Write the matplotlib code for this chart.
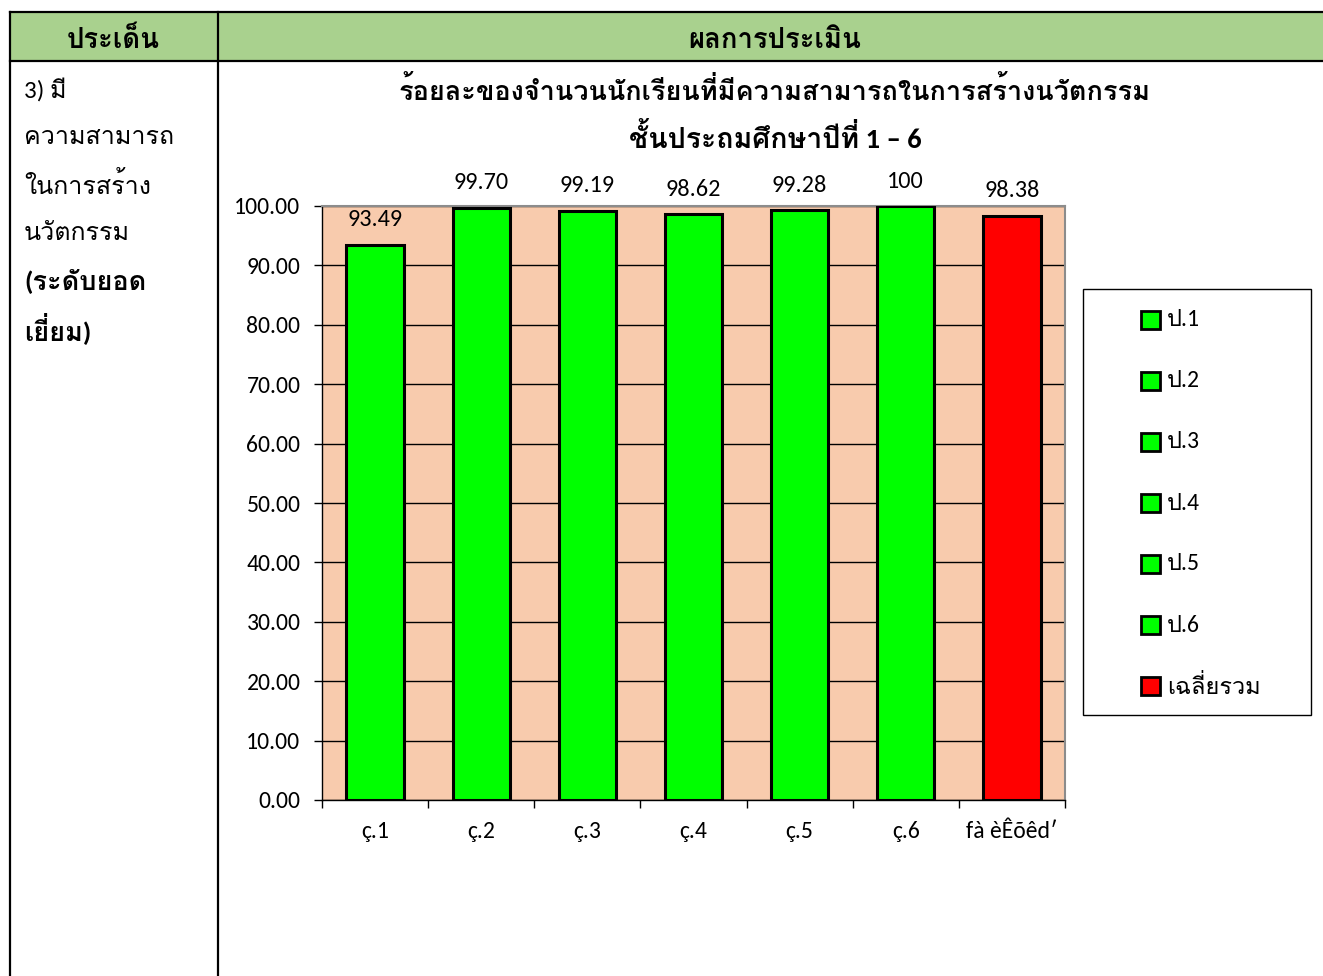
import matplotlib
matplotlib.use("Agg")
import matplotlib.pyplot as plt
from matplotlib.patches import Rectangle
from matplotlib.lines import Line2D
from matplotlib.ticker import FixedLocator, FuncFormatter

# ---- data ----
categories = ["ç.1", "ç.2", "ç.3", "ç.4", "ç.5", "ç.6", "fà èÊõêd′"]
values = [93.49, 99.70, 99.19, 98.62, 99.28, 100, 98.38]
value_labels = ["93.49", "99.70", "99.19", "98.62", "99.28", "100", "98.38"]
legend_labels = ["ป.1", "ป.2", "ป.3", "ป.4", "ป.5", "ป.6", "เฉลี่ยรวม"]
bar_colors = ["#00FF00"] * 6 + ["#FF0000"]
yticks = [0, 10, 20, 30, 40, 50, 60, 70, 80, 90, 100]
title_lines = ["ร้อยละของจำนวนนักเรียนที่มีความสามารถในการสร้างนวัตกรรม",
               "ชั้นประถมศึกษาปีที่ 1 – 6"]
header_left = "ประเด็น"
header_right = "ผลการประเมิน"
left_lines = ["3) มี", "ความสามารถ", "ในการสร้าง", "นวัตกรรม"]
left_bold_lines = ["(ระดับยอด", "เยี่ยม)"]

W, H = 1323, 976
def px(x):
    return x / W
def py(y):
    return 1 - y / H

THAI = ["Loma", "DejaVu Sans"]
NUM = ["Carlito", "Lato", "DejaVu Sans"]
NUM_THAI = ["Carlito", "Loma", "DejaVu Sans"]

fig = plt.figure(figsize=(W / 100, H / 100), dpi=100)

# ---- table ----
fig.add_artist(Rectangle((px(10), py(61)), px(1323) - px(10), py(12) - py(61),
                         transform=fig.transFigure, facecolor="#A9D18E",
                         edgecolor="none", zorder=0))
lw = 1.6
def hline(y, x0, x1):
    fig.add_artist(Line2D([px(x0), px(x1)], [py(y), py(y)], color="black",
                          lw=lw, transform=fig.transFigure))
def vline(x, y0, y1):
    fig.add_artist(Line2D([px(x), px(x)], [py(y0), py(y1)], color="black",
                          lw=lw, transform=fig.transFigure))
hline(12, 10, 1323)
hline(61, 10, 1323)
vline(10, 12, 976)
vline(218, 12, 976)

fig.text(px(113), py(40), header_left, ha="center", va="center",
         family=THAI, fontweight="bold", fontsize=19.8)
fig.text(px(775), py(40), header_right, ha="center", va="center",
         family=THAI, fontweight="bold", fontsize=19.8)

ys = [90, 138, 185, 233, 281, 329]
for i, t in enumerate(left_lines + left_bold_lines):
    bold = i >= len(left_lines)
    fig.text(px(24), py(ys[i]), t, ha="left", va="center", family=NUM_THAI,
             fontsize=19.5 if bold else 18,
             fontweight="bold" if bold else "normal")

# ---- chart ----
ax = fig.add_axes([px(322), py(800), px(1065) - px(322), py(206) - py(800)])
ax.set_facecolor("#F8CBAD")
x = list(range(len(categories)))
ax.bar(x, values, width=0.54, color=bar_colors, edgecolor="black",
       linewidth=2.2, zorder=3)
ax.set_xlim(-0.5, len(categories) - 0.5)
ax.set_ylim(0, 100)
ax.yaxis.set_major_locator(FixedLocator(yticks))
ax.yaxis.set_major_formatter(FuncFormatter(lambda v, p: "%.2f" % v))
ax.grid(axis="y", color="black", lw=1, zorder=1)
ax.set_axisbelow(True)
ax.set_xticks(x)
ax.set_xticklabels(categories, family=NUM, fontsize=17)
ax.set_xticks([i - 0.5 for i in range(len(categories) + 1)], minor=True)
ax.tick_params(axis="x", which="major", length=0, pad=15)
ax.tick_params(axis="x", which="minor", length=6, width=1, direction="out")
ax.tick_params(axis="y", length=6, width=1, direction="out", pad=9.5)
for lab in ax.get_yticklabels():
    lab.set_family(NUM)
    lab.set_fontsize(17)
for s in ["top", "right"]:
    ax.spines[s].set_color("#8C8C8C")
    ax.spines[s].set_linewidth(1.5)
for s in ["left", "bottom"]:
    ax.spines[s].set_color("black")
    ax.spines[s].set_linewidth(1)

for xi, v, lab in zip(x, values, value_labels):
    ax.annotate(lab, (xi, v), xytext=(0, 18), textcoords="offset points",
                ha="center", va="center", family=NUM, fontsize=17.5,
                annotation_clip=False)

fig.text(px(775), py(90), title_lines[0], ha="center", va="center",
         family=NUM_THAI, fontweight="bold", fontsize=19.5)
fig.text(px(775), py(137), title_lines[1], ha="center", va="center",
         family=NUM_THAI, fontweight="bold", fontsize=20.5)

# ---- legend ----
fig.add_artist(Rectangle((px(1083), py(715)), px(1311) - px(1083),
                         py(289) - py(715), transform=fig.transFigure,
                         facecolor="white", edgecolor="black", lw=1))
for i, (lab, c) in enumerate(zip(legend_labels, bar_colors)):
    yc = 320 + 61 * i
    fig.add_artist(Rectangle((px(1141), py(yc + 9)), px(19), py(0) - py(18),
                             transform=fig.transFigure, facecolor=c,
                             edgecolor="black", lw=2))
    fig.text(px(1167), py(yc), lab, ha="left", va="center",
             family=NUM_THAI, fontsize=17)

fig.savefig("out.png", dpi=100)
